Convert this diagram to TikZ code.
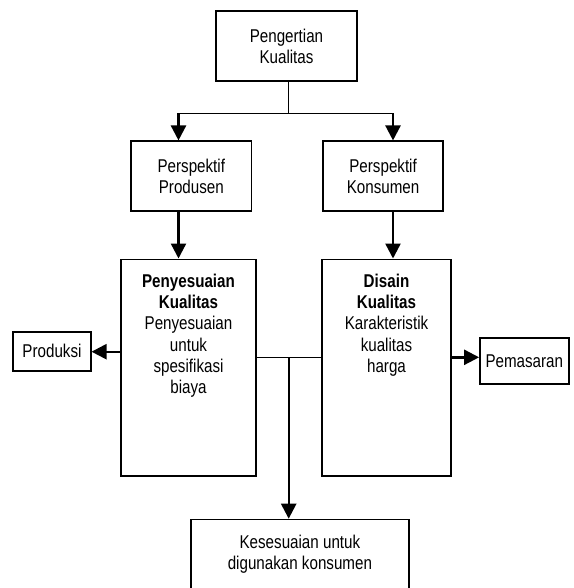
\documentclass[tikz,border=0pt]{standalone}
\usepackage{fontspec}
\setmainfont{Liberation Sans}[FakeStretch=0.82]
\usetikzlibrary{arrows.meta}
\begin{document}
\begin{tikzpicture}[x=1pt,y=-1pt,
  font=\fontsize{18.5pt}{21.3pt}\selectfont,
  box/.style={draw, line width=1.7pt, rectangle, inner sep=0pt, align=center},
  conn/.style={line width=1.5pt},
  arr/.style={line width=2.4pt, -{Triangle[width=15pt,length=15pt]}},
]
\useasboundingbox (0,0) rectangle (573,588);
\node[box, minimum width=140.4pt, minimum height=70pt] (top) at (286.5,46.3) {Pengertian\\Kualitas};
\node[box, minimum width=120.5pt, minimum height=70pt] (pp) at (191.3,176.3) {Perspektif\\Produsen};
\node[box, minimum width=120.4pt, minimum height=70pt] (pk) at (383.1,176.3) {Perspektif\\Konsumen};
\node[box] (ps) at (188.5,367.5) {\begin{minipage}[t][216.3pt][t]{135pt}\centering\rule{0pt}{28pt}\textbf{Penyesuaian}\\\textbf{Kualitas}\\Penyesuaian\\untuk\\spesifikasi\\biaya\end{minipage}};
\node[box] (ds) at (386.5,367.5) {\begin{minipage}[t][216.3pt][t]{128.4pt}\centering\rule{0pt}{28pt}\textbf{Disain}\\\textbf{Kualitas}\\Karakteristik\\kualitas\\harga\end{minipage}};
\node[box, minimum width=77.4pt, minimum height=39pt] (prod) at (52,351.2) {Produksi};
\node[box, minimum width=88.7pt, minimum height=46.6pt] (pem) at (524.3,361) {Pemasaran};
\node[box, anchor=north] (kes) at (299.9,518.7) {\begin{minipage}[t][90pt][t]{217.8pt}\centering\rule{0pt}{29pt}Kesesuaian untuk\\digunakan konsumen\end{minipage}};
% connectors
\coordinate (j1) at (288.6,113.3);
\coordinate (jl) at (178.5,113.3);
\coordinate (jr) at (393,113.3);
\coordinate (jm) at (288.7,357.3);
\coordinate (yl) at (0,351.7);
\draw[conn] (top.south -| j1) -- (j1);
\draw[conn] (jl) -- (jr);
\draw[arr] (jl) -- (jl |- pp.north);
\draw[arr] (jr) -- (jr |- pk.north);
\draw[arr] (pp.south -| jl) -- (ps.north -| jl);
\draw[arr] (pk.south -| jr) -- (ds.north -| jr);
\draw[arr] (ps.west |- yl) -- (prod.east |- yl);
\draw[arr] (ds.east |- jm) -- (pem.west |- jm);
\draw[conn] (ps.east |- jm) -- (ds.west |- jm);
\draw[arr] (jm) -- (kes.north -| jm);
\end{tikzpicture}
\end{document}
